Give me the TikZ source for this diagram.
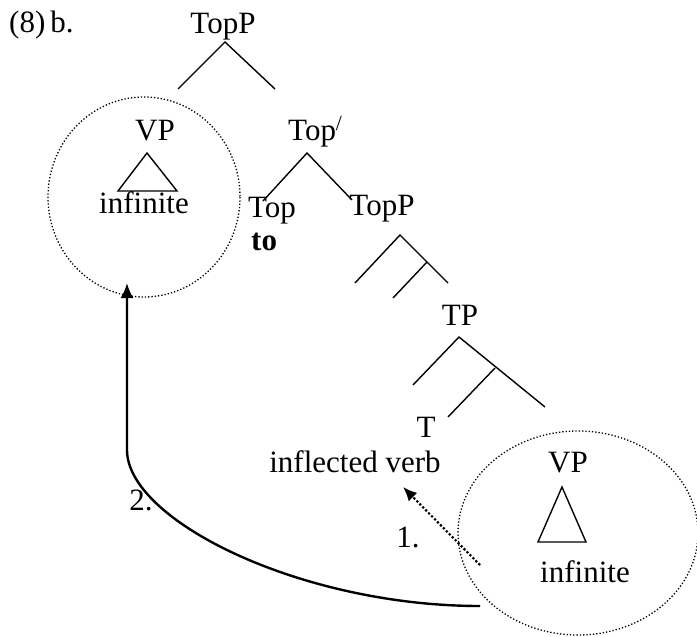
\documentclass[tikz,border=0pt]{standalone}
\usepackage{fontspec}
\setmainfont{Liberation Serif}
\usetikzlibrary{arrows.meta}
\tikzset{
  lab/.style={anchor=base, inner sep=0pt, font=\fontsize{31}{36}\selectfont},
  branch/.style={line width=1.4pt},
  ring/.style={dotted, line width=1.3pt},
  moveto/.style={line width=2.4pt, -{Latex[length=15pt,width=13pt]}}
}

\begin{document}
\begin{tikzpicture}[x=1pt,y=-1pt]
\useasboundingbox (0,0) rectangle (697,637);
%labels
\node[lab, anchor=base west] (ex) at (9,32) {(8)\kern5pt b.};
\node[lab] (topP) at (223,33) {TopP};
\node[lab, anchor=base west] (topbar) at (288,140) {Top\textsuperscript{/}};
\node[lab] (vpL) at (155,140) {VP};
\node[lab] (infL) at (144,213) {infinite};
\node[lab] (top) at (272,217) {Top};
\node[lab, anchor=base west] (to) at (251,250) {\textbf{to}};
\node[lab] (topP2) at (382,215) {TopP};
\node[lab] (tp) at (460,325) {TP};
\node[lab] (t) at (426,437) {T};
\node[lab] (infl) at (355,472) {inflected verb};
\node[lab] (vpR) at (568,472) {VP};
\node[lab] (infR) at (585,582) {infinite};
\node[lab] (one) at (408,547) {1.};
\node[lab] (two) at (141,510) {2.};

%branches
\draw[branch] (178,89) -- (225,42) -- (275,89);
\draw[branch] (263,201) -- (307,153) -- (352,200);
\draw[branch] (355,283) -- (400,235) -- (448,283);
\draw[branch] (427,262) -- (393,298);
\draw[branch] (413,385) -- (459,337) -- (545,407);
\draw[branch] (495,368) -- (448,417);

%triangles
\draw[branch] (147,153) -- (118,191) -- (177,191) -- cycle;
\draw[branch] (562,487) -- (538,542) -- (586,542) -- cycle;

%circles
\draw[ring] (144,197) ellipse [x radius=96, y radius=100];
\draw[ring] (578,533) ellipse [x radius=120, y radius=102];

%movement
\coordinate (from1) at (480,565);
\coordinate (to1) at (403,487);
\coordinate (from2) at (480,606);
\coordinate (bend2) at (127,450);
\coordinate (to2) at (127,283);
\draw[line width=2.2pt, dotted, -{Latex[length=14pt,width=12pt]}] (from1) -- (to1);
\draw[moveto] (from2) .. controls (300,606) and (127,520) .. (bend2) -- (to2);
\end{tikzpicture}
\end{document}
